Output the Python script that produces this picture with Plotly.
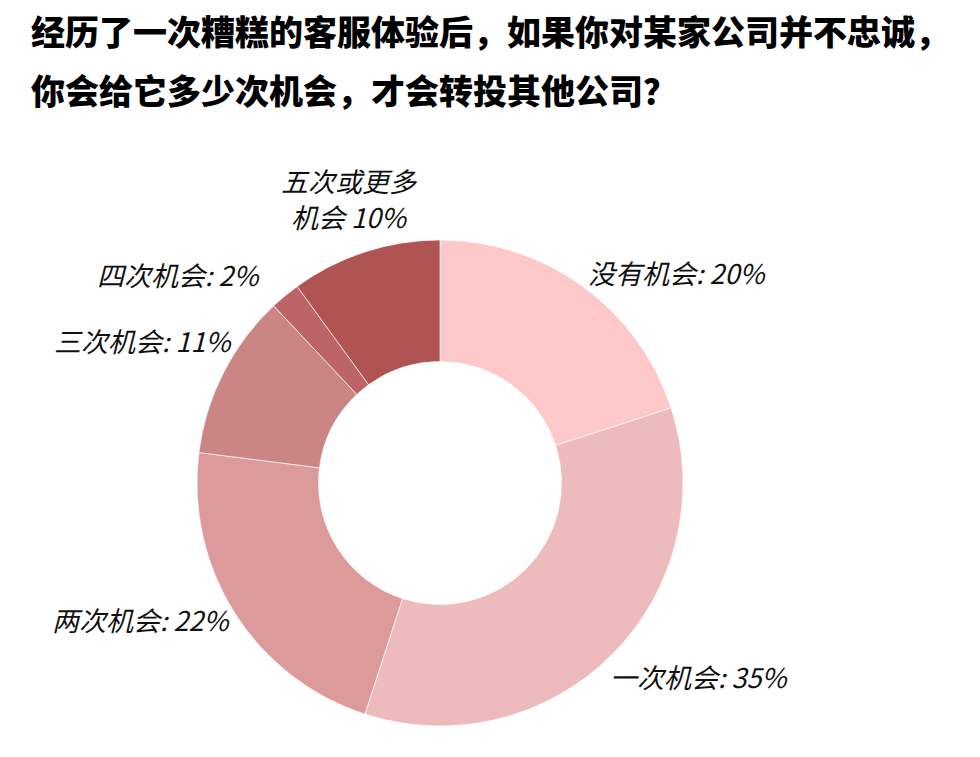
import math
import plotly.graph_objects as go

# ---- data ----
categories = ["没有机会", "一次机会", "两次机会", "三次机会", "四次机会", "五次或更多机会"]
values = [20, 35, 22, 11, 2, 10]
label_texts = ["没有机会: 20%", "一次机会: 35%", "两次机会: 22%",
               "三次机会: 11%", "四次机会: 2%", "五次或更多<br>机会 10%"]
title_lines = ["经历了一次糟糕的客服体验后，如果你对某家公司并不忠诚，",
               "你会给它多少次机会，才会转投其他公司？"]

# ---- style ----
colors = ["#FDC8C8", "#EEBBBC", "#DD9A9B", "#CB8585", "#BB6566", "#AF5353"]
W, H = 980, 757
CX, CY, R = 440, 483, 243
label_anchor = ["left", "left", "right", "right", "right", "center"]
label_shift = [(3, 14), (-4, -22), (-2, -6), (12, 32), (-22, 21), (-15, 53)]
LINE_GAP = 36

fig = go.Figure()
fig.add_trace(go.Pie(
    labels=categories,
    values=values,
    sort=False,
    direction="clockwise",
    rotation=0,
    hole=0.5,
    marker=dict(colors=colors, line=dict(color="rgba(255,255,255,0.8)", width=0.8)),
    textinfo="none",
    hoverinfo="label+percent",
    showlegend=False,
    domain=dict(x=[(CX - R) / W, (CX + R) / W], y=[1 - (CY + R) / H, 1 - (CY - R) / H]),
))

annotations = []
total = sum(values)
cum = 0
for i, v in enumerate(values):
    mid = (cum + v / 2) / total * 2 * math.pi
    cum += v
    px = CX + R * math.sin(mid)
    py = CY - R * math.cos(mid)
    dx, dy = label_shift[i]
    lines = label_texts[i].split("<br>")
    n = len(lines)
    for k, ln in enumerate(lines):
        annotations.append(dict(
            x=px / W, y=1 - py / H, xref="paper", yref="paper",
            text=ln, showarrow=False,
            xanchor=label_anchor[i], yanchor="middle", align="center",
            xshift=dx, yshift=dy + (n - 1) / 2 * LINE_GAP - k * LINE_GAP,
            font=dict(family="Noto Sans CJK SC", size=27, color="#111111", style="italic"),
        ))

for j, (line, ypix) in enumerate(zip(title_lines, [31, 89])):
    annotations.append(dict(
        x=29 / W, y=1 - ypix / H, xref="paper", yref="paper",
        text=line, showarrow=False, xanchor="left", yanchor="middle",
        font=dict(family="Noto Sans CJK SC", size=34, color="#000000", weight=900),
    ))

fig.update_layout(
    width=W, height=H,
    margin=dict(l=0, r=0, t=0, b=0),
    paper_bgcolor="white", plot_bgcolor="white",
    annotations=annotations,
)

fig.write_html("out.html", config={"displayModeBar": False},
               post_script="document.body.style.margin='0';document.body.style.padding='0';")
